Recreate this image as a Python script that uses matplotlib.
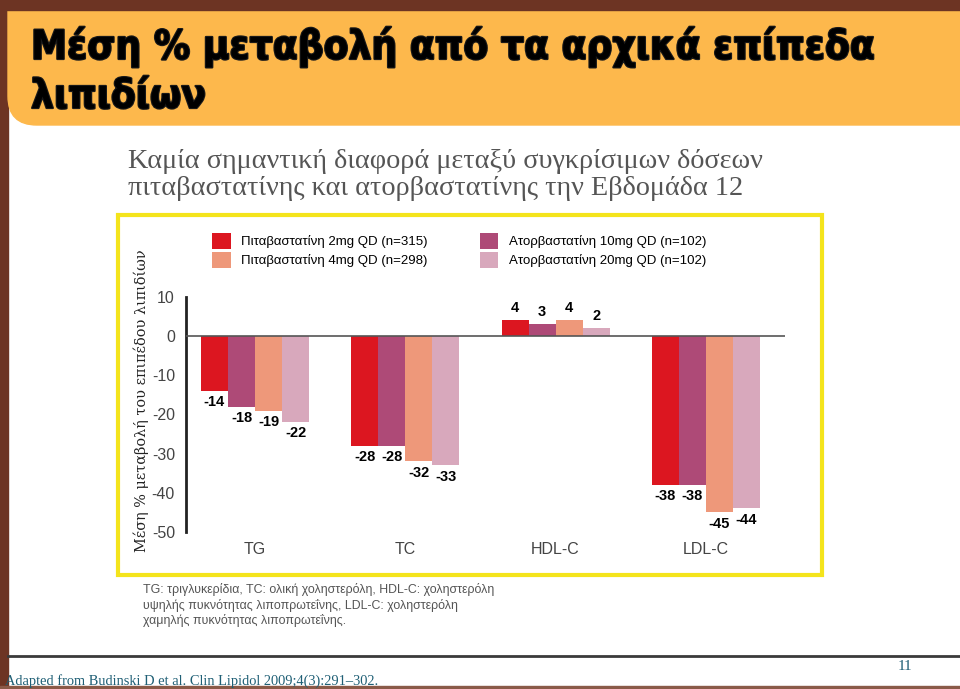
import matplotlib
matplotlib.use("Agg")
import matplotlib.pyplot as plt
import matplotlib.patheffects as pe
import numpy as np
from matplotlib.patches import Rectangle, FancyBboxPatch

categories = ["TG", "TC", "HDL-C", "LDL-C"]
series_names = ["Πιταβαστατίνη 2mg QD (n=315)", "Ατορβαστατίνη 10mg QD (n=102)",
                "Πιταβαστατίνη 4mg QD (n=298)", "Ατορβαστατίνη 20mg QD (n=102)"]
pit2 = [-14, -28, 4, -38]
ator10 = [-18, -28, 3, -38]
pit4 = [-19, -32, 4, -45]
ator20 = [-22, -33, 2, -44]
series_values = [pit2, ator10, pit4, ator20]
colors = ["#DC1620", "#AE4A77", "#EE987A", "#D8A8BC"]
yticks = [10, 0, -10, -20, -30, -40, -50]

W, H = 960, 689
fig = plt.figure(figsize=(9.6, 6.89), dpi=100)
fig.patch.set_facecolor("white")

def fx(x): return x / W
def fy(y): return 1 - y / H

# slide background
brown = "#6D3423"
fig.patches.append(Rectangle((0, 0), fx(8), 1, transform=fig.transFigure, color=brown, zorder=0))
fig.patches.append(Rectangle((0, 0), 1, 3 / H, transform=fig.transFigure, color="#8A5A48", zorder=0))
fig.patches.append(FancyBboxPatch((fx(8), fy(125)), fx(960 - 8) + 0.05, (125 - 10) / H + 0.05,
                                  boxstyle="round,pad=0,rounding_size=0.03",
                                  transform=fig.transFigure, color="#FDB84C", zorder=1,
                                  mutation_aspect=W / H))
fig.patches.append(Rectangle((0, fy(10)), 1, 10 / H, transform=fig.transFigure, color=brown, zorder=2))
# bottom rule
fig.add_artist(plt.Line2D([fx(8), 1], [fy(656), fy(656)], transform=fig.transFigure,
                          color="#3A3A3A", lw=2))
# yellow box
fig.patches.append(Rectangle((fx(118), fy(575)), fx(822 - 118), (575 - 215) / H,
                             transform=fig.transFigure, fill=False, edgecolor="#F4E41C", lw=3, zorder=3))

# title
for yy, txt in [(47, "Μέση % μεταβολή από τα αρχικά επίπεδα"), (97, "λιπιδίων")]:
    fig.text(fx(31), fy(yy), txt, fontsize=29,
             fontweight="heavy", fontstretch="condensed", family="DejaVu Sans", color="black",
             va="center", ha="left",
             path_effects=[pe.withStroke(linewidth=1.6, foreground="#1a1a1a")])

# subtitle
serif = ["Liberation Serif", "DejaVu Serif"]
fig.text(fx(128), fy(175), "Καμία σημαντική διαφορά μεταξύ συγκρίσιμων δόσεων\nπιταβαστατίνης και ατορβαστατίνης την Εβδομάδα 12",
         fontsize=20.3, family=serif, color="#555555", va="center", ha="left",
         linespacing=1.1)

# chart axes
ax = fig.add_axes([fx(186), fy(532), fx(785 - 186), (532 - 297) / H])
ax.set_facecolor("none")
x = np.arange(len(categories))
bw = 0.18
offsets = [-1.5 * bw, -0.5 * bw, 0.5 * bw, 1.5 * bw]
sans = ["Liberation Sans", "DejaVu Sans"]
bars = []
for vals, off, c, name in zip(series_values, offsets, colors, series_names):
    b = ax.bar(x + off, vals, width=bw, color=c, label=name, zorder=2)
    bars.append(b)
    for xi, v in zip(x + off, vals):
        if v < 0:
            ax.annotate(f"{v}", (xi, v), xytext=(0, -3), textcoords="offset points",
                        ha="center", va="top", fontsize=10.5, fontweight="bold", family=sans)
        else:
            ax.annotate(f"{v}", (xi, v), xytext=(0, 4), textcoords="offset points",
                        ha="center", va="bottom", fontsize=10.5, fontweight="bold", family=sans)

ax.axhline(0, color="#555555", lw=1.2, zorder=3)
ax.set_ylim(-50, 10)
ax.set_xlim(-0.459, 3.526)
ax.set_yticks(yticks)
ax.set_yticklabels([str(t) for t in yticks], family=sans, fontsize=11.5, color="#444444")
ax.tick_params(axis="y", length=0, pad=8)
ax.tick_params(axis="x", length=0, pad=7)
ax.set_xticks(x)
ax.set_xticklabels(categories, family=sans, fontsize=11.5, color="#444444")
for s in ["top", "right", "bottom"]:
    ax.spines[s].set_visible(False)
ax.spines["left"].set_linewidth(2)
ax.spines["left"].set_color("#222222")

fig.text(fx(141), fy(401), "Μέση % μεταβολή του επιπέδου λιπιδίων", rotation=90,
         family="DejaVu Serif", fontsize=10.4, color="#222222", va="center", ha="center")

# legend
handles = [bars[0], bars[2], bars[1], bars[3]]
labels = [series_names[0], series_names[2], series_names[1], series_names[3]]
leg = fig.legend(handles, labels, ncol=2, loc="upper left",
                 bbox_to_anchor=(fx(207), fy(228)), frameon=False,
                 prop={"family": sans, "size": 9.5}, handlelength=1.4, handleheight=1.4,
                 handletextpad=0.8, columnspacing=3.95, labelspacing=0.3, borderaxespad=0)

# footnote
fig.text(fx(143), fy(605), "TG: τριγλυκερίδια, TC: ολική χοληστερόλη, HDL-C: χοληστερόλη\nυψηλής πυκνότητας λιποπρωτεΐνης, LDL-C: χοληστερόλη\nχαμηλής πυκνότητας λιποπρωτεΐνης.",
         family=sans, fontsize=8.9, color="#555555", va="center", ha="left",
         linespacing=1.25)

# footer
fig.text(fx(5), fy(681), "Adapted from Budinski D et al. Clin Lipidol 2009;4(3):291–302.",
         family=serif, fontsize=10.4, color="#1F5F75", va="center", ha="left")
fig.text(fx(905), fy(666), "11", family=serif, fontsize=11, color="#1F5F75",
         va="center", ha="center")

fig.savefig("out.png", dpi=100)
